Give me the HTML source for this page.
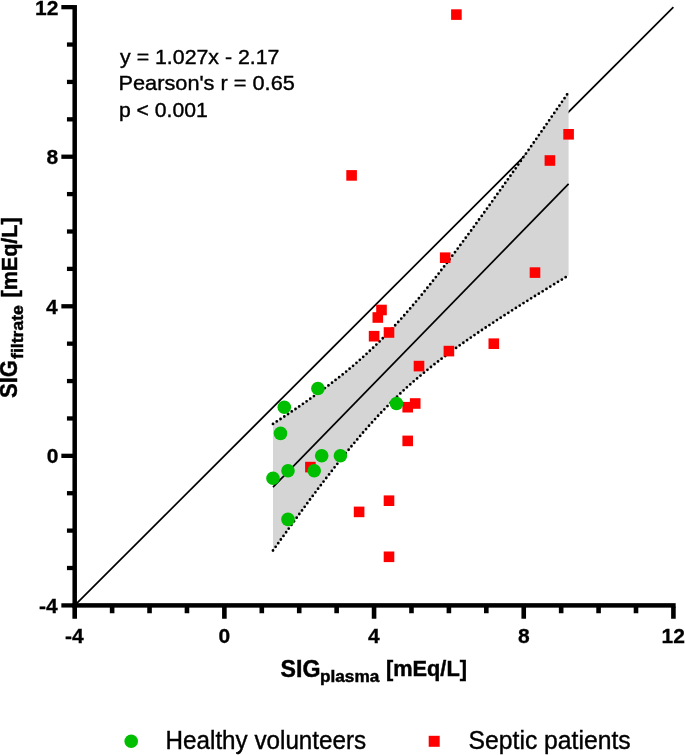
<!DOCTYPE html>
<html><head><meta charset="utf-8"><title>SIG plot</title>
<style>html,body{margin:0;padding:0;background:#fff}svg{display:block}text{font-family:"Liberation Sans",Arial,sans-serif;fill:#000;stroke:#000}.b{font-weight:bold}</style></head><body>
<svg width="685" height="755" viewBox="0 0 685 755">
<rect width="685" height="755" fill="#fff"/>
<line x1="74.7" y1="605.4" x2="673.4" y2="7.2" stroke="#000" stroke-width="1.7"/>
<polygon points="273.0,423.9 276.8,421.4 280.5,419.0 284.3,416.5 288.0,414.0 291.7,411.5 295.5,409.0 299.2,406.4 303.0,403.8 306.7,401.2 310.4,398.6 314.2,395.9 317.9,393.2 321.7,390.5 325.4,387.7 329.2,384.9 332.9,382.0 336.6,379.1 340.4,376.2 344.1,373.2 347.9,370.1 351.6,367.0 355.4,363.8 359.1,360.5 362.8,357.2 366.6,353.8 370.3,350.3 374.1,346.8 377.8,343.2 381.5,339.5 385.3,335.7 389.0,331.8 392.8,327.8 396.5,323.8 400.3,319.7 404.0,315.5 407.7,311.2 411.5,306.9 415.2,302.5 419.0,298.0 422.7,293.5 426.4,288.9 430.2,284.2 433.9,279.5 437.7,274.8 441.4,269.9 445.2,265.1 448.9,260.2 452.6,255.3 456.4,250.3 460.1,245.3 463.9,240.2 467.6,235.2 471.4,230.1 475.1,225.0 478.8,219.8 482.6,214.7 486.3,209.5 490.1,204.3 493.8,199.0 497.5,193.8 501.3,188.6 505.0,183.3 508.8,178.0 512.5,172.7 516.3,167.4 520.0,162.1 523.7,156.7 527.5,151.4 531.2,146.1 535.0,140.7 538.7,135.3 542.5,130.0 546.2,124.6 549.9,119.2 553.7,113.8 557.4,108.4 561.2,103.0 564.9,97.6 568.6,92.1 568.6,275.4 564.9,277.7 561.2,280.0 557.4,282.2 553.7,284.5 549.9,286.8 546.2,289.1 542.5,291.4 538.7,293.7 535.0,296.0 531.2,298.3 527.5,300.7 523.7,303.0 520.0,305.4 516.3,307.7 512.5,310.1 508.8,312.5 505.0,314.9 501.3,317.3 497.5,319.7 493.8,322.2 490.1,324.6 486.3,327.1 482.6,329.6 478.8,332.1 475.1,334.6 471.4,337.2 467.6,339.8 463.9,342.4 460.1,345.0 456.4,347.7 452.6,350.4 448.9,353.2 445.2,356.0 441.4,358.8 437.7,361.7 433.9,364.6 430.2,367.6 426.4,370.6 422.7,373.7 419.0,376.8 415.2,380.0 411.5,383.3 407.7,386.6 404.0,390.0 400.3,393.5 396.5,397.1 392.8,400.7 389.0,404.5 385.3,408.3 381.5,412.2 377.8,416.1 374.1,420.2 370.3,424.3 366.6,428.5 362.8,432.8 359.1,437.2 355.4,441.6 351.6,446.1 347.9,450.7 344.1,455.3 340.4,460.0 336.6,464.7 332.9,469.5 329.2,474.3 325.4,479.1 321.7,484.0 317.9,489.0 314.2,494.0 310.4,499.0 306.7,504.0 303.0,509.1 299.2,514.2 295.5,519.3 291.7,524.5 288.0,529.6 284.3,534.8 280.5,540.0 276.8,545.3 273.0,550.5" fill="#d5d5d5"/>
<polyline points="273.0,423.9 276.8,421.4 280.5,419.0 284.3,416.5 288.0,414.0 291.7,411.5 295.5,409.0 299.2,406.4 303.0,403.8 306.7,401.2 310.4,398.6 314.2,395.9 317.9,393.2 321.7,390.5 325.4,387.7 329.2,384.9 332.9,382.0 336.6,379.1 340.4,376.2 344.1,373.2 347.9,370.1 351.6,367.0 355.4,363.8 359.1,360.5 362.8,357.2 366.6,353.8 370.3,350.3 374.1,346.8 377.8,343.2 381.5,339.5 385.3,335.7 389.0,331.8 392.8,327.8 396.5,323.8 400.3,319.7 404.0,315.5 407.7,311.2 411.5,306.9 415.2,302.5 419.0,298.0 422.7,293.5 426.4,288.9 430.2,284.2 433.9,279.5 437.7,274.8 441.4,269.9 445.2,265.1 448.9,260.2 452.6,255.3 456.4,250.3 460.1,245.3 463.9,240.2 467.6,235.2 471.4,230.1 475.1,225.0 478.8,219.8 482.6,214.7 486.3,209.5 490.1,204.3 493.8,199.0 497.5,193.8 501.3,188.6 505.0,183.3 508.8,178.0 512.5,172.7 516.3,167.4 520.0,162.1 523.7,156.7 527.5,151.4 531.2,146.1 535.0,140.7 538.7,135.3 542.5,130.0 546.2,124.6 549.9,119.2 553.7,113.8 557.4,108.4 561.2,103.0 564.9,97.6 568.6,92.1" fill="none" stroke="#000" stroke-width="2.8" stroke-linecap="round" stroke-dasharray="0 4.5"/>
<polyline points="273.0,550.5 276.8,545.3 280.5,540.0 284.3,534.8 288.0,529.6 291.7,524.5 295.5,519.3 299.2,514.2 303.0,509.1 306.7,504.0 310.4,499.0 314.2,494.0 317.9,489.0 321.7,484.0 325.4,479.1 329.2,474.3 332.9,469.5 336.6,464.7 340.4,460.0 344.1,455.3 347.9,450.7 351.6,446.1 355.4,441.6 359.1,437.2 362.8,432.8 366.6,428.5 370.3,424.3 374.1,420.2 377.8,416.1 381.5,412.2 385.3,408.3 389.0,404.5 392.8,400.7 396.5,397.1 400.3,393.5 404.0,390.0 407.7,386.6 411.5,383.3 415.2,380.0 419.0,376.8 422.7,373.7 426.4,370.6 430.2,367.6 433.9,364.6 437.7,361.7 441.4,358.8 445.2,356.0 448.9,353.2 452.6,350.4 456.4,347.7 460.1,345.0 463.9,342.4 467.6,339.8 471.4,337.2 475.1,334.6 478.8,332.1 482.6,329.6 486.3,327.1 490.1,324.6 493.8,322.2 497.5,319.7 501.3,317.3 505.0,314.9 508.8,312.5 512.5,310.1 516.3,307.7 520.0,305.4 523.7,303.0 527.5,300.7 531.2,298.3 535.0,296.0 538.7,293.7 542.5,291.4 546.2,289.1 549.9,286.8 553.7,284.5 557.4,282.2 561.2,280.0 564.9,277.7 568.6,275.4" fill="none" stroke="#000" stroke-width="2.8" stroke-linecap="round" stroke-dasharray="0 4.5"/>
<line x1="273.0" y1="487.2" x2="568.6" y2="183.8" stroke="#000" stroke-width="1.7"/>
<g fill="#ff0000">
<rect x="305.1" y="461.8" width="10.6" height="10.6"/>
<rect x="346.3" y="170.1" width="10.6" height="10.6"/>
<rect x="353.8" y="506.6" width="10.6" height="10.6"/>
<rect x="368.8" y="330.9" width="10.6" height="10.6"/>
<rect x="372.5" y="312.2" width="10.6" height="10.6"/>
<rect x="376.2" y="304.7" width="10.6" height="10.6"/>
<rect x="383.7" y="327.2" width="10.6" height="10.6"/>
<rect x="383.7" y="495.4" width="10.6" height="10.6"/>
<rect x="383.7" y="551.5" width="10.6" height="10.6"/>
<rect x="402.4" y="401.9" width="10.6" height="10.6"/>
<rect x="409.9" y="398.2" width="10.6" height="10.6"/>
<rect x="402.4" y="435.6" width="10.6" height="10.6"/>
<rect x="413.7" y="360.8" width="10.6" height="10.6"/>
<rect x="439.9" y="252.4" width="10.6" height="10.6"/>
<rect x="443.6" y="345.8" width="10.6" height="10.6"/>
<rect x="451.1" y="9.3" width="10.6" height="10.6"/>
<rect x="488.5" y="338.4" width="10.6" height="10.6"/>
<rect x="529.7" y="267.3" width="10.6" height="10.6"/>
<rect x="544.6" y="155.2" width="10.6" height="10.6"/>
<rect x="563.3" y="129.0" width="10.6" height="10.6"/>
</g>
<g fill="#00be00">
<circle cx="273.0" cy="478.3" r="6.8"/>
<circle cx="280.5" cy="433.4" r="6.8"/>
<circle cx="284.3" cy="407.2" r="6.8"/>
<circle cx="288.0" cy="470.8" r="6.8"/>
<circle cx="288.0" cy="519.4" r="6.8"/>
<circle cx="314.2" cy="470.8" r="6.8"/>
<circle cx="317.9" cy="388.5" r="6.8"/>
<circle cx="321.7" cy="455.8" r="6.8"/>
<circle cx="340.4" cy="455.8" r="6.8"/>
<circle cx="396.5" cy="403.5" r="6.8"/>
</g>
<g fill="#000">
<rect x="72.45" y="5.06" width="4.5" height="602.59"/>
<rect x="72.45" y="603.15" width="603.22" height="4.5"/>
<rect x="61.35" y="603.25" width="12.1" height="4.3"/>
<rect x="72.40" y="606.65" width="4.6" height="12.1"/>
<rect x="66.95" y="565.86" width="6.5" height="4.3"/>
<rect x="109.82" y="606.65" width="4.6" height="6.6"/>
<rect x="66.95" y="528.47" width="6.5" height="4.3"/>
<rect x="147.24" y="606.65" width="4.6" height="6.6"/>
<rect x="66.95" y="491.08" width="6.5" height="4.3"/>
<rect x="184.66" y="606.65" width="4.6" height="6.6"/>
<rect x="61.35" y="453.69" width="12.1" height="4.3"/>
<rect x="222.08" y="606.65" width="4.6" height="12.1"/>
<rect x="66.95" y="416.30" width="6.5" height="4.3"/>
<rect x="259.50" y="606.65" width="4.6" height="6.6"/>
<rect x="66.95" y="378.91" width="6.5" height="4.3"/>
<rect x="296.92" y="606.65" width="4.6" height="6.6"/>
<rect x="66.95" y="341.52" width="6.5" height="4.3"/>
<rect x="334.34" y="606.65" width="4.6" height="6.6"/>
<rect x="61.35" y="304.13" width="12.1" height="4.3"/>
<rect x="371.76" y="606.65" width="4.6" height="12.1"/>
<rect x="66.95" y="266.74" width="6.5" height="4.3"/>
<rect x="409.18" y="606.65" width="4.6" height="6.6"/>
<rect x="66.95" y="229.35" width="6.5" height="4.3"/>
<rect x="446.60" y="606.65" width="4.6" height="6.6"/>
<rect x="66.95" y="191.96" width="6.5" height="4.3"/>
<rect x="484.02" y="606.65" width="4.6" height="6.6"/>
<rect x="61.35" y="154.57" width="12.1" height="4.3"/>
<rect x="521.44" y="606.65" width="4.6" height="12.1"/>
<rect x="66.95" y="117.18" width="6.5" height="4.3"/>
<rect x="558.86" y="606.65" width="4.6" height="6.6"/>
<rect x="66.95" y="79.79" width="6.5" height="4.3"/>
<rect x="596.28" y="606.65" width="4.6" height="6.6"/>
<rect x="66.95" y="42.40" width="6.5" height="4.3"/>
<rect x="633.70" y="606.65" width="4.6" height="6.6"/>
<rect x="61.35" y="5.01" width="12.1" height="4.3"/>
<rect x="671.12" y="606.65" width="4.6" height="12.1"/>
</g>
<text transform="translate(120.06,63.50) scale(1.0303,1)" font-size="20.7" stroke-width="0.4">y = 1.027x - 2.17</text>
<text transform="translate(118.53,90.20) scale(1.0500,1)" font-size="20.7" stroke-width="0.4">Pearson's r = 0.65</text>
<text transform="translate(118.95,116.80) scale(1.0215,1)" font-size="20.7" stroke-width="0.4">p &lt; 0.001</text>
<text class="b" transform="translate(280.53,676.60) scale(0.9852,1)" font-size="23.5" stroke-width="0.45">SIG</text>
<text class="b" transform="translate(319.98,681.70) scale(1.0553,1)" font-size="16.3" stroke-width="0.45">plasma</text>
<text class="b" transform="translate(385.94,676.40) scale(0.9634,1)" font-size="22.6" stroke-width="0.45">[mEq/L]</text>
<text class="b" transform="translate(16.80,398.05) rotate(-90) scale(0.9415,1)" font-size="23.5" stroke-width="0.45">SIG</text>
<text class="b" transform="translate(22.50,358.90) rotate(-90) scale(1.0788,1)" font-size="16.3" stroke-width="0.45">filtrate</text>
<text class="b" transform="translate(16.70,297.55) rotate(-90) scale(0.9549,1)" font-size="22.6" stroke-width="0.45">[mEq/L]</text>
<text transform="translate(165.58,749.30) scale(0.9692,1)" font-size="25" stroke-width="0.4">Healthy volunteers</text>
<text transform="translate(468.53,749.30) scale(0.9891,1)" font-size="25" stroke-width="0.4">Septic patients</text>
<text class="b" transform="translate(38.95,613.00)" font-size="21" stroke-width="0.3">-4</text>
<text class="b" transform="translate(65.01,642.80)" font-size="21" stroke-width="0.3">-4</text>
<text class="b" transform="translate(46.70,463.44)" font-size="21" stroke-width="0.3">0</text>
<text class="b" transform="translate(218.57,642.80)" font-size="21" stroke-width="0.3">0</text>
<text class="b" transform="translate(45.95,313.88)" font-size="21" stroke-width="0.3">4</text>
<text class="b" transform="translate(368.12,642.80)" font-size="21" stroke-width="0.3">4</text>
<text class="b" transform="translate(46.58,164.32)" font-size="21" stroke-width="0.3">8</text>
<text class="b" transform="translate(517.93,642.80)" font-size="21" stroke-width="0.3">8</text>
<text class="b" transform="translate(35.08,14.76)" font-size="21" stroke-width="0.3">12</text>
<text class="b" transform="translate(661.55,642.80)" font-size="21" stroke-width="0.3">12</text>
<circle cx="131.2" cy="741.3" r="6.8" fill="#00be00"/>
<rect x="428.7" y="735.8" width="11" height="11" fill="#ff0000"/>
</svg></body></html>
